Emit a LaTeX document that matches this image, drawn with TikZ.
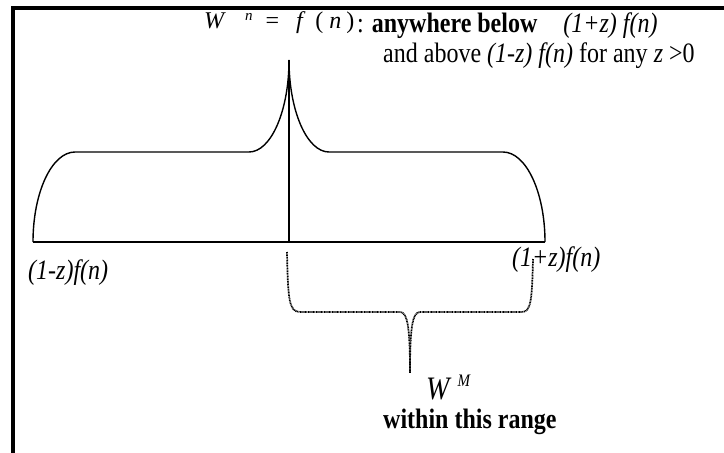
\documentclass[tikz,border=0pt]{standalone}
\usepackage{fontspec}
\setmainfont{Liberation Serif}
\newcommand{\tallbox}[1]{\scalebox{1}[1.17]{#1}}
\begin{document}
\begin{tikzpicture}[x=1pt,y=-1pt,
  frame/.style={line width=3.5pt},
  curve/.style={line width=1.4pt},
  brace/.style={line width=1.7pt, dash pattern=on 1pt off 0.6pt},
  txt/.style={inner sep=0pt, font=\fontsize{24}{28}\selectfont},
]
\useasboundingbox (0,0) rectangle (724,453);
% frame
\draw[frame] (13,453) -- (13,8) -- (730,8);
% named points
\coordinate (L) at (33,242);
\coordinate (R) at (545,242);
\coordinate (P) at (289,60);
\coordinate (B) at (289,242);
% curve
\draw[curve] (L) .. controls (33,192) and (52,152) .. (75,152) -- (249,152)
  .. controls (271,152) and (289,111) .. (P)
  .. controls (289,111) and (307,152) .. (329,152) -- (503,152)
  .. controls (526,152) and (545,192) .. (R);
\draw[curve] (P) -- (B);
\draw[curve] (L) -- (R);
% brace
\coordinate (bl) at (287,252);
\coordinate (br) at (533,259);
\coordinate (bt) at (410,373);
\draw[brace] (bl) .. controls (288,300) and (289,312) .. (300,312) -- (400,312)
  .. controls (408,312) and (410,330) .. (bt);
\draw[brace] (br) .. controls (532,300) and (531,312) .. (522,312) -- (420,312)
  .. controls (412,312) and (410,330) .. (bt);
% texts
\node[txt, anchor=base west] (wn) at (204,28)
  {\textit{W}\hspace{19pt}\raisebox{8pt}{\fontsize{15}{16}\selectfont\textit{n}}\hspace{13pt}=\hspace{17pt}\textit{f}\hspace{10pt}(\hspace{6pt}\textit{n}\hspace{5pt})};
\node[txt, anchor=base west] (t1) at (357,32)
  {\tallbox{: \textbf{anywhere below}\hspace{26pt}\textit{(1+z) f(n)}}};
\node[txt, anchor=base west] (t2) at (383,62)
  {\tallbox{and above \textit{(1-z) f(n)} for any \textit{z} >0}};
\node[txt, anchor=base west] (lt) at (28,279) {\tallbox{\textit{(1-z)f(n)}}};
\node[txt, anchor=base west] (rt) at (512,266) {\tallbox{\textit{(1+z)f(n)}}};
\node[txt, anchor=base west] (wm) at (426,399)
  {\tallbox{\fontsize{28}{30}\selectfont\textit{W}\hspace{6pt}\raisebox{11pt}{\fontsize{15}{16}\selectfont\textit{M}}}};
\node[txt, anchor=base west] (rng) at (383,428) {\tallbox{\textbf{within this range}}};
\end{tikzpicture}
\end{document}
